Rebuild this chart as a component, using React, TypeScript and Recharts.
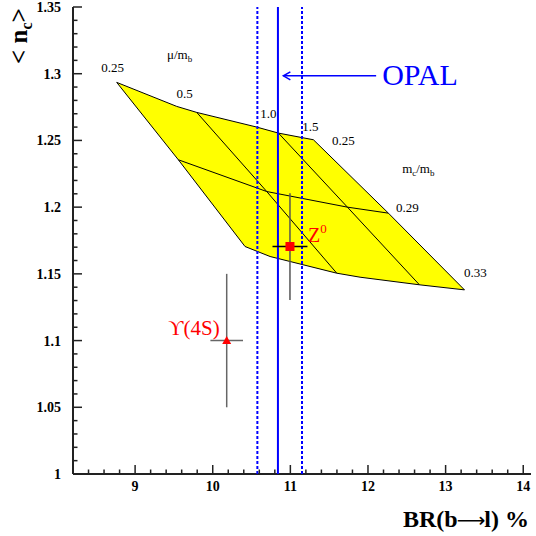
import React from 'react';
import { ComposedChart, XAxis, YAxis, Scatter, Label } from 'recharts';

type Pt = { x: number; y: number };

// ---- axes ----
const xDomain: [number, number] = [8.2, 14.1];
const yDomain: [number, number] = [1, 1.35];
const xMajorTicks = [9, 10, 11, 12, 13, 14];
const yMajorTicks = [1, 1.05, 1.1, 1.15, 1.2, 1.25, 1.3, 1.35];
const xAllTicks: number[] = [];
for (let i = 0; i <= 28; i++) xAllTicks.push(Math.round((8.4 + i * 0.2) * 10) / 10);
const yAllTicks: number[] = [];
for (let i = 0; i <= 35; i++) yAllTicks.push(Math.round((1 + i * 0.01) * 100) / 100);

// ---- prediction mesh: lines of constant mc/mb ----
const mc025: Pt[] = [
  { x: 8.763, y: 1.2935 },
  { x: 9.536, y: 1.2755 },
  { x: 9.794, y: 1.271 },
  { x: 10.567, y: 1.26 },
  { x: 10.846, y: 1.2555 },
  { x: 11.297, y: 1.2505 },
];
const mc029: Pt[] = [
  { x: 9.557, y: 1.2355 },
  { x: 10.696, y: 1.2117 },
  { x: 11.735, y: 1.2 },
  { x: 12.263, y: 1.1955 },
];
const mc033: Pt[] = [
  { x: 10.416, y: 1.1705 },
  { x: 10.739, y: 1.163 },
  { x: 11.598, y: 1.1505 },
  { x: 11.898, y: 1.1475 },
  { x: 12.663, y: 1.1418 },
  { x: 13.243, y: 1.138 },
];
// ---- lines of constant mu/mb ----
const mu025: Pt[] = [
  { x: 8.763, y: 1.2935 },
  { x: 9.557, y: 1.2355 },
  { x: 10.416, y: 1.1705 },
];
const mu05: Pt[] = [
  { x: 9.794, y: 1.271 },
  { x: 10.696, y: 1.2117 },
  { x: 11.598, y: 1.1505 },
];
const mu10: Pt[] = [
  { x: 10.846, y: 1.2555 },
  { x: 11.735, y: 1.2 },
  { x: 12.663, y: 1.1418 },
];
const mu15: Pt[] = [
  { x: 11.297, y: 1.2505 },
  { x: 12.263, y: 1.1955 },
  { x: 13.243, y: 1.138 },
];
const muLabels = ['0.25', '0.5', '1.0', '1.5'];
const mcLabels = ['0.25', '0.29', '0.33'];

// ---- OPAL measurement ----
const opalCentral = 10.84;
const opalLow = 10.575;
const opalHigh = 11.15;
const opalArrowY = 1.2984;
const opalArrowX: [number, number] = [10.91, 12.105];

// ---- measurements ----
const z0 = { x: 10.995, y: 1.1705, ex: 0.225, ey: 0.04 };
const ups4s = { x: 10.18, y: 1.1, ex: 0.21, ey: 0.05 };

// ---- annotation anchors ----
const muTitlePos: Pt[] = [{ x: 9.41, y: 1.3111 }];
const mcTitlePos: Pt[] = [{ x: 12.44, y: 1.2256 }];

const FONT = '"Liberation Serif", "Times New Roman", Times, serif';
const BLUE = '#0000ff';
const RED = '#ff0000';

const bandOutline: Pt[] = [
  ...mc025,
  ...mu15.slice(1),
  ...[...mc033].reverse().slice(1),
  ...[...mu025].reverse().slice(1),
];

const vLine = (x: number): Pt[] => [
  { x, y: yDomain[0] },
  { x, y: yDomain[1] },
];
const hSeg = (m: { x: number; y: number; ex: number }): Pt[] => [
  { x: m.x - m.ex, y: m.y },
  { x: m.x + m.ex, y: m.y },
];
const vSeg = (m: { x: number; y: number; ey: number }): Pt[] => [
  { x: m.x, y: m.y - m.ey },
  { x: m.x, y: m.y + m.ey },
];

const muLabelPts = [mu025[0], mu05[0], mu10[0], mu15[0]].map((p, i) => ({ ...p, i, text: muLabels[i] }));
const mcLabelPts = [mc025[mc025.length - 1], mc029[mc029.length - 1], mc033[mc033.length - 1]].map((p, i) => ({
  ...p,
  i,
  text: mcLabels[i],
}));
const muLabelOffsets = [
  [-4, -10.5],
  [-12, -14],
  [-10, -15],
  [-3, -9],
];
const mcLabelOffsets = [
  [30, 5],
  [19, -1],
  [11, -13],
];

const isMajor = (v: number, majors: number[]) => majors.some((m) => Math.abs(m - v) < 1e-6);

const pathFrom = (pts: { x: number; y: number }[], close: boolean) =>
  pts.map((p, i) => `${i ? 'L' : 'M'}${p.x},${p.y}`).join(' ') + (close ? ' Z' : '');

const lineRenderer =
  (style: React.SVGProps<SVGPathElement>, close = false) =>
  (props: any) =>
    <path d={pathFrom(props.points || [], close)} fill="none" {...style} />;

const noShape = () => <g />;

const TICK = '#222';

const BottomTick = (props: any) => {
  const { x, y, payload } = props;
  const v = payload.value;
  const major = isMajor(v, xMajorTicks);
  return (
    <g>
      <line x1={x} x2={x} y1={y} y2={y - (major ? 9 : 4.5)} stroke={TICK} strokeWidth={1.5} />
      {major && (
        <text x={x} y={y + 17} textAnchor="middle" fontFamily={FONT} fontWeight="bold" fontSize={14} fill="#000">
          {v}
        </text>
      )}
    </g>
  );
};
const TopTick = (props: any) => {
  const { x, y, payload } = props;
  const major = isMajor(payload.value, xMajorTicks);
  return <line x1={x} x2={x} y1={y} y2={y + (major ? 9 : 4.5)} stroke={TICK} strokeWidth={1.5} />;
};
const LeftTick = (props: any) => {
  const { x, y, payload } = props;
  const v = payload.value;
  const major = isMajor(v, yMajorTicks);
  return (
    <g>
      <line x1={x} x2={x + (major ? 9 : 4.5)} y1={y} y2={y} stroke={TICK} strokeWidth={1.5} />
      {major && (
        <text x={x - 12} y={y + 5} textAnchor="end" fontFamily={FONT} fontWeight="bold" fontSize={14} fill="#000">
          {v}
        </text>
      )}
    </g>
  );
};
const RightTick = (props: any) => {
  const { x, y, payload } = props;
  const major = isMajor(payload.value, yMajorTicks);
  return <line x1={x} x2={x - (major ? 9 : 4.5)} y1={y} y2={y} stroke={TICK} strokeWidth={1.5} />;
};

export default function App() {
  const axisLine = { stroke: '#222', strokeWidth: 2 };
  return (
    <div style={{ position: 'absolute', left: 0, top: 0 }}>
      <ComposedChart width={536} height={536} margin={{ top: 7, right: 5, bottom: 0, left: 0 }}>
        <XAxis
          type="number"
          dataKey="x"
          domain={xDomain}
          allowDataOverflow
          ticks={xAllTicks}
          interval={0}
          tickLine={false}
          tickSize={0}
          tickMargin={0}
          height={62}
          axisLine={axisLine}
          tick={<BottomTick />}
        >
          <Label
            content={() => (
              <text x={403} y={527} fontFamily={FONT} fontWeight="bold" fontSize={24} fill="#000">
                BR(b
                <tspan fontFamily='"DejaVu Sans", sans-serif' fontWeight="normal" fontSize={20} dx={-1}>
                  ⟶
                </tspan>
                <tspan dx={-1}>l) %</tspan>
              </text>
            )}
          />
        </XAxis>
        <XAxis
          xAxisId="top"
          orientation="top"
          type="number"
          dataKey="x"
          domain={xDomain}
          allowDataOverflow
          ticks={xAllTicks}
          interval={0}
          tickLine={false}
          tickSize={0}
          tickMargin={0}
          height={0}
          axisLine={axisLine}
          tick={<TopTick />}
        />
        <YAxis
          type="number"
          dataKey="y"
          domain={yDomain}
          allowDataOverflow
          ticks={yAllTicks}
          interval={0}
          tickLine={false}
          tickSize={0}
          tickMargin={0}
          width={73}
          axisLine={axisLine}
          tick={<LeftTick />}
        >
          <Label
            content={() => (
              <text transform="translate(27,64) rotate(-90)" fontFamily={FONT} fontWeight="bold" fontSize={25} fill="#000">
                {'< n'}
                <tspan fontSize={16} dy={5}>
                  c
                </tspan>
                <tspan dy={-5} dx={0}>
                  {'>'}
                </tspan>
              </text>
            )}
          />
        </YAxis>
        <YAxis
          yAxisId="right"
          orientation="right"
          type="number"
          dataKey="y"
          domain={yDomain}
          allowDataOverflow
          ticks={yAllTicks}
          interval={0}
          tickLine={false}
          tickSize={0}
          tickMargin={0}
          width={0}
          axisLine={axisLine}
          tick={<RightTick />}
        />

        {/* yellow prediction band */}
        <Scatter
          data={bandOutline}
          line={lineRenderer({ fill: '#ffff00', stroke: '#000', strokeWidth: 1 }, true)}
          shape={noShape}
          isAnimationActive={false}
        />
        {[mc029, mu05, mu10].map((d, i) => (
          <Scatter
            key={'mesh' + i}
            data={d}
            line={lineRenderer({ stroke: '#000', strokeWidth: 1 })}
            shape={noShape}
            isAnimationActive={false}
          />
        ))}

        {/* OPAL band */}
        <Scatter data={vLine(opalLow)} line={lineRenderer({ stroke: BLUE, strokeWidth: 2, strokeDasharray: '3 2' })} shape={noShape} isAnimationActive={false} />
        <Scatter data={vLine(opalHigh)} line={lineRenderer({ stroke: BLUE, strokeWidth: 2, strokeDasharray: '3 2' })} shape={noShape} isAnimationActive={false} />
        <Scatter data={vLine(opalCentral)} line={lineRenderer({ stroke: BLUE, strokeWidth: 2 })} shape={noShape} isAnimationActive={false} />
        <Scatter
          data={[
            { x: opalArrowX[0], y: opalArrowY },
            { x: opalArrowX[1], y: opalArrowY },
          ]}
          line={lineRenderer({ stroke: BLUE, strokeWidth: 1.5 })}
          shape={(p: any) =>
            p.payload.x === opalArrowX[0] ? (
              <path d={`M${p.cx + 7},${p.cy - 4} L${p.cx},${p.cy} L${p.cx + 7},${p.cy + 4}`} stroke={BLUE} strokeWidth={1.5} fill="none" />
            ) : (
              <text x={p.cx + 6} y={p.cy + 9} fontFamily={FONT} fontSize={30} fill={BLUE}>
                OPAL
              </text>
            )
          }
          isAnimationActive={false}
        />

        {/* error bars */}
        <Scatter data={vSeg(z0)} line={lineRenderer({ stroke: '#555', strokeWidth: 1.5 })} shape={noShape} isAnimationActive={false} />
        <Scatter data={hSeg(z0)} line={lineRenderer({ stroke: '#000', strokeWidth: 1.5 })} shape={noShape} isAnimationActive={false} />
        <Scatter data={vSeg(ups4s)} line={lineRenderer({ stroke: '#666', strokeWidth: 1.5 })} shape={noShape} isAnimationActive={false} />
        <Scatter data={hSeg(ups4s)} line={lineRenderer({ stroke: '#666', strokeWidth: 1.5 })} shape={noShape} isAnimationActive={false} />

        {/* markers */}
        <Scatter
          data={[z0]}
          shape={(p: any) => (
            <g>
              <rect x={p.cx - 4.5} y={p.cy - 4.5} width={9} height={9} fill={RED} />
              <text x={p.cx + 18} y={p.cy - 4.5} fontFamily={FONT} fontSize={20} fill={RED}>
                Z
                <tspan fontSize={13} dy={-9}>
                  0
                </tspan>
              </text>
            </g>
          )}
          isAnimationActive={false}
        />
        <Scatter
          data={[ups4s]}
          shape={(p: any) => (
            <g>
              <path d={`M${p.cx},${p.cy - 4.5} L${p.cx + 4.5},${p.cy + 3.5} L${p.cx - 4.5},${p.cy + 3.5} Z`} fill={RED} />
              <text x={p.cx - 7} y={p.cy - 6} textAnchor="end" fontFamily={'"Liberation Serif", "DejaVu Serif", serif'} fontSize={21} fill={RED}>
                ϒ(4S)
              </text>
            </g>
          )}
          isAnimationActive={false}
        />

        {/* mesh labels */}
        <Scatter
          data={muLabelPts}
          shape={(p: any) => {
            const [dx, dy] = muLabelOffsets[p.payload.i];
            return (
              <text x={p.cx + dx} y={p.cy + dy} textAnchor="middle" fontFamily={FONT} fontSize={13} fill="#000">
                {p.payload.text}
              </text>
            );
          }}
          isAnimationActive={false}
        />
        <Scatter
          data={mcLabelPts}
          shape={(p: any) => {
            const [dx, dy] = mcLabelOffsets[p.payload.i];
            return (
              <text x={p.cx + dx} y={p.cy + dy} textAnchor="middle" fontFamily={FONT} fontSize={13} fill="#000">
                {p.payload.text}
              </text>
            );
          }}
          isAnimationActive={false}
        />
        <Scatter
          data={muTitlePos}
          shape={(p: any) => (
            <text x={p.cx} y={p.cy} fontFamily={FONT} fontSize={13} fill="#000">
              μ/m
              <tspan fontSize={9} dy={3}>
                b
              </tspan>
            </text>
          )}
          isAnimationActive={false}
        />
        <Scatter
          data={mcTitlePos}
          shape={(p: any) => (
            <text x={p.cx} y={p.cy} fontFamily={FONT} fontSize={13} fill="#000">
              m
              <tspan fontSize={9} dy={3}>
                c
              </tspan>
              <tspan dy={-3}>/m</tspan>
              <tspan fontSize={9} dy={3}>
                b
              </tspan>
            </text>
          )}
          isAnimationActive={false}
        />
      </ComposedChart>
    </div>
  );
}
